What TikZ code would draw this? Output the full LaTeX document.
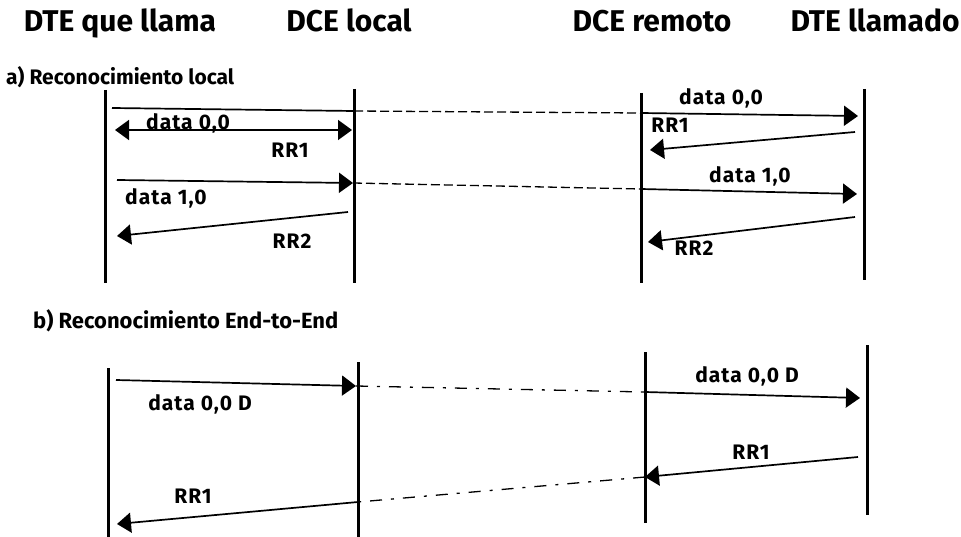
\documentclass[tikz,border=0pt]{standalone}
\usepackage{fontspec}
\setmainfont{Fira Sans}
\newfontfamily\lblfont[LetterSpace=5]{Fira Sans}
\usetikzlibrary{arrows.meta}
\tikzset{
  vida/.style={line width=3pt},
  msg/.style={line width=1.7pt, -{Triangle[length=14pt,width=20pt]}},
  dmsg/.style={line width=1.7pt, {Triangle[length=14pt,width=20pt]}-{Triangle[length=14pt,width=20pt]}},
  enlace/.style={line width=1.3pt, dash pattern=on 9pt off 4pt},
  enlaceb/.style={line width=1.3pt, dash pattern=on 12pt off 9pt on 3pt off 9pt},
  etiq/.style={font=\lblfont\bfseries\fontsize{21}{21}\selectfont, inner sep=0pt},
  tit/.style={font=\bfseries\fontsize{21}{21}\selectfont, inner sep=0pt, anchor=west},
  cab/.style={font=\bfseries\fontsize{30}{30}\selectfont, inner sep=0pt, anchor=base},
}
\begin{document}
\begin{tikzpicture}[x=1pt,y=-1pt]
\useasboundingbox (0,0) rectangle (961,537);
% cabeceras
\node[cab] (dteq) at (120,32) {DTE que llama};
\node[cab] (dcel) at (349,32) {DCE local};
\node[cab] (dcer) at (652,32) {DCE remoto};
\node[cab] (dtel) at (875,32) {DTE llamado};

% a) Reconocimiento local
\node[tit] (ta) at (6,77) {a) Reconocimiento local};
\foreach \x/\t/\b/\name in {105/90/283/A,354/89/283/B,641/93/283/C,864/89/280/D} {
  \coordinate (\name t) at (\x,\t);
  \coordinate (\name b) at (\x,\b);
  \draw[vida] (\name t) -- (\name b);
}
\coordinate (a1) at (112,108);
\coordinate (a2) at (354,111);
\coordinate (a3) at (641,113);
\coordinate (a4) at (858,116);
\draw[line width=1.7pt] (a1) -- (a2);
\draw[enlace] (a2) -- (a3);
\draw[msg] (a3) -- (a4);
\node[etiq] (la1) at (721,98) {data 0,0};
\coordinate (b1) at (115,130);
\coordinate (b2) at (352,130);
\draw[dmsg] (b1) -- (b2);
\node[etiq] (lb1) at (188,123) {data 0,0};
\node[etiq] (lb2) at (290,150) {RR1};
\coordinate (c1) at (855,132);
\coordinate (c2) at (650,150);
\draw[msg] (c1) -- (c2);
\node[etiq] (lc1) at (670,125) {RR1};
\coordinate (d1) at (117,180);
\coordinate (d2) at (353,183);
\coordinate (d3) at (641,189);
\coordinate (d4) at (857,194);
\draw[msg] (d1) -- (d2);
\draw[enlace] (d2) -- (d3);
\draw[msg] (d3) -- (d4);
\node[etiq] (ld1) at (166,198) {data 1,0};
\node[etiq] (ld2) at (750,176) {data 1,0};
\coordinate (e1) at (348,212);
\coordinate (e2) at (117,236);
\draw[msg] (e1) -- (e2);
\node[etiq] (le1) at (292,241) {RR2};
\coordinate (f1) at (855,217);
\coordinate (f2) at (648,242);
\draw[msg] (f1) -- (f2);
\node[etiq] (lf1) at (694,248) {RR2};

% b) Reconocimiento End-to-End
\node[tit, font=\bfseries\fontsize{22}{22}\selectfont] (tb) at (33,321) {b) Reconocimiento End-to-End};
\foreach \x/\t/\b/\name in {108/368/537/E,358/362/537/F,645/352/523/G,867/345/515/H} {
  \coordinate (\name t) at (\x,\t);
  \coordinate (\name b) at (\x,\b);
  \draw[vida] (\name t) -- (\name b);
}
\coordinate (g1) at (116,380);
\coordinate (g2) at (356,386);
\coordinate (g3) at (645,392);
\coordinate (g4) at (860,398);
\draw[msg] (g1) -- (g2);
\draw[enlaceb] (g2) -- (g3);
\draw[msg] (g3) -- (g4);
\node[etiq] (lg1) at (200,404) {data 0,0 D};
\node[etiq] (lg2) at (747,376) {data 0,0 D};
\coordinate (h1) at (858,457);
\coordinate (h2) at (645,477);
\coordinate (h3) at (358,502);
\coordinate (h4) at (117,524);
\draw[msg] (h1) -- (h2);
\draw[enlaceb] (h2) -- (h3);
\draw[msg] (h3) -- (h4);
\node[etiq] (lh1) at (751,452) {RR1};
\node[etiq] (lh2) at (193,496) {RR1};
\end{tikzpicture}
\end{document}
